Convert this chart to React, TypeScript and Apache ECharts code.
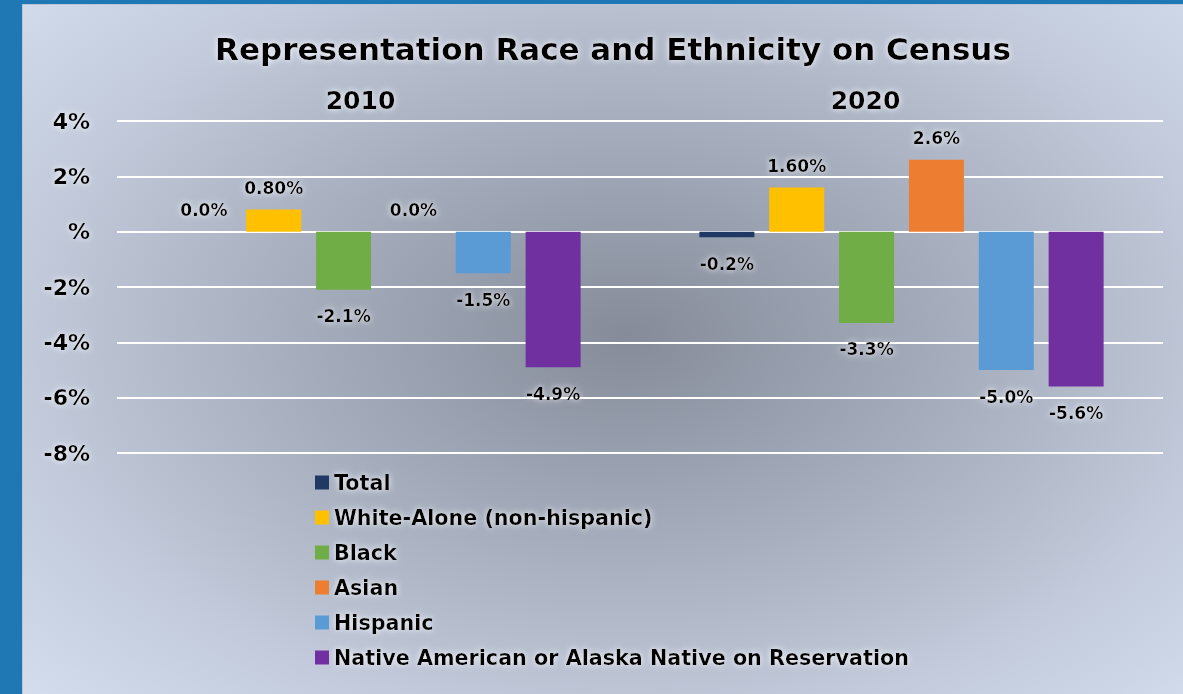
import React, { useEffect, useRef } from "react";
import * as echarts from "echarts";

const categories = ["2010", "2020"];
const seriesNames = [
  "Total",
  "White-Alone (non-hispanic)",
  "Black",
  "Asian",
  "Hispanic",
  "Native American or Alaska Native on Reservation",
];
const totalValues = [0.0, -0.2];
const whiteValues = [0.8, 1.6];
const blackValues = [-2.1, -3.3];
const asianValues = [0.0, 2.6];
const hispanicValues = [-1.5, -5.0];
const nativeValues = [-4.9, -5.6];
const labelDecimals = [1, 2, 1, 1, 1, 1];
const yTicks = { min: -8, max: 4, interval: 2 };

const colors = ["#1f3864", "#ffc000", "#70ad47", "#ed7d31", "#5b9bd5", "#7030a0"];
const FONT = "DejaVu Sans";

const glow = {
  textShadowColor: "rgba(255,255,255,0.95)",
  textShadowBlur: 6,
};

export default function App() {
  const ref = useRef<HTMLDivElement>(null);
  useEffect(() => {
    document.body.style.margin = "0";
    if (!ref.current) return;
    const chart = echarts.init(ref.current, undefined, { renderer: "svg" });
    const allValues = [totalValues, whiteValues, blackValues, asianValues, hispanicValues, nativeValues];
    const series = allValues.map((vals, i) => ({
      name: seriesNames[i],
      type: "bar",
      barWidth: 55,
      barGap: "27%",
      itemStyle: { color: colors[i] },
      data: vals.map((v) => ({
        value: v,
        label: {
          show: true,
          position: v < 0 ? "bottom" : "top",
          distance: v < 0 ? 18 : 13,
          formatter: () => v.toFixed(labelDecimals[i]) + "%",
          fontFamily: FONT,
          fontWeight: "bold",
          fontSize: 17,
          color: "#000",
          ...glow,
        },
      })),
    }));
    chart.setOption({
      animation: false,
      backgroundColor: "transparent",
      title: {
        text: "Representation Race and Ethnicity on Census",
        left: 585,
        textAlign: "center",
        top: 23,
        textStyle: {
          fontFamily: FONT,
          fontWeight: "bold",
          fontSize: 31,
          color: "#000",
          ...glow,
        },
      },
      legend: {
        orient: "vertical",
        left: 287,
        top: 462,
        itemWidth: 14,
        itemHeight: 14,
        itemGap: 14,
        icon: "rect",
        data: seriesNames,
        textStyle: {
          fontFamily: FONT,
          fontWeight: "bold",
          fontSize: 20.7,
          lineHeight: 20,
          color: "#000",
          ...glow,
        },
      },
      grid: { left: 94, right: 20, top: 116, bottom: 241, containLabel: false },
      xAxis: {
        type: "category",
        position: "top",
        data: [
          { value: categories[0], textStyle: { padding: [0, 36, 0, 0] } },
          { value: categories[1], textStyle: { padding: [0, 72, 0, 0] } },
        ],
        axisLine: { show: false },
        axisTick: { show: false },
        axisLabel: {
          margin: 8,
          fontFamily: FONT,
          fontWeight: "bold",
          fontSize: 25,
          color: "#000",
          ...glow,
        },
      },
      yAxis: {
        type: "value",
        min: yTicks.min,
        max: yTicks.max,
        interval: yTicks.interval,
        axisLine: { show: false },
        axisTick: { show: false },
        splitLine: { lineStyle: { color: "#ffffff", width: 2 } },
        axisLabel: {
          margin: 27,
          fontFamily: FONT,
          fontWeight: "bold",
          fontSize: 22,
          color: "#000",
          formatter: (v: number) => (v === 0 ? "%" : v + "%"),
          ...glow,
        },
      },
      series,
    });
    return () => chart.dispose();
  }, []);
  return (
    <div style={{ position: "relative", width: 1183, height: 694, background: "#1f78b4", overflow: "hidden" }}>
      <div
        style={{
          position: "absolute",
          left: 22,
          top: 4,
          width: 1161,
          height: 690,
          borderLeft: "1px solid #b9c6d8",
          borderTop: "1px solid #b9c6d8",
          boxSizing: "border-box",
          background:
            "radial-gradient(ellipse 75% 80% at 52% 48%, #858b99 0%, #a3abba 35%, #c2cadb 70%, #d7e1f2 100%)",
        }}
      >
        <div ref={ref} style={{ position: "absolute", left: 0, top: 0, width: 1160, height: 689 }} />
      </div>
    </div>
  );
}
